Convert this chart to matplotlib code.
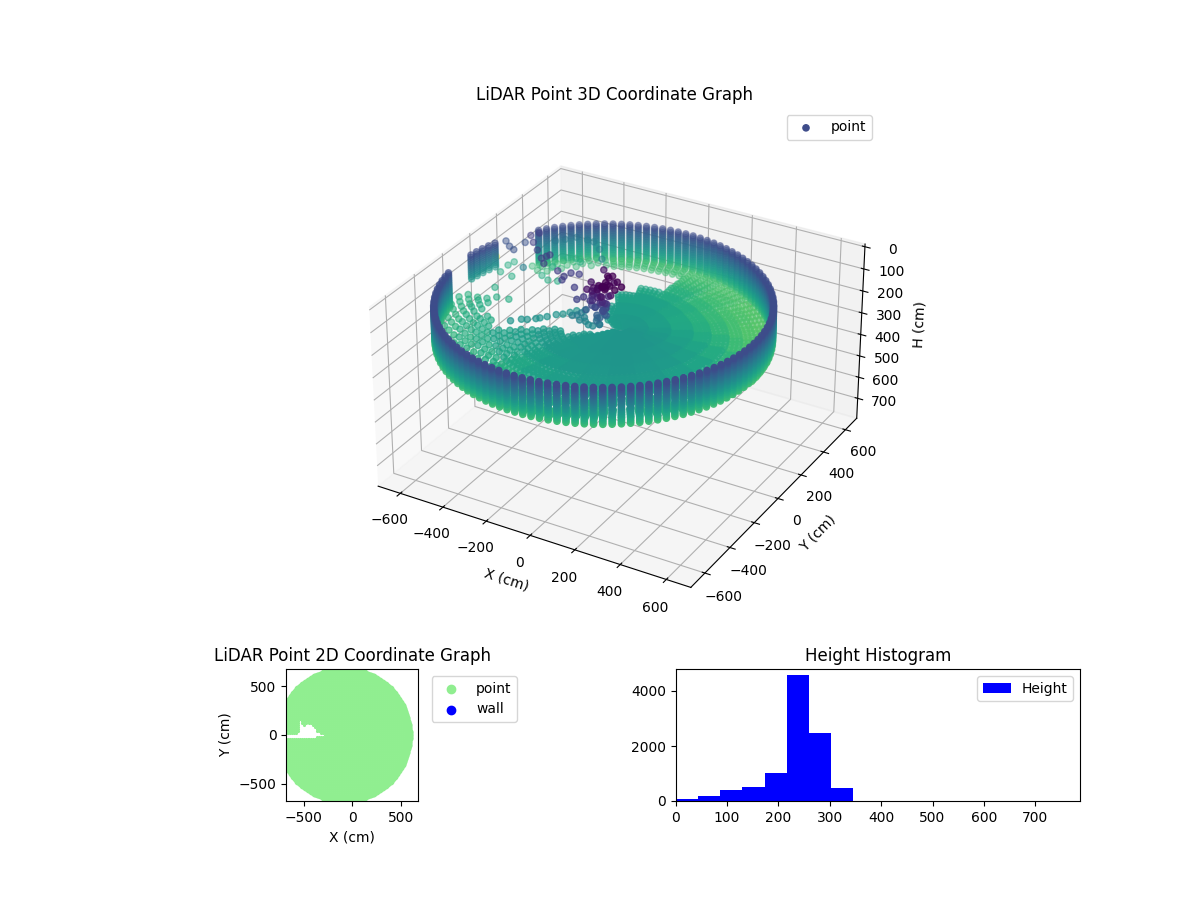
import numpy as np
import matplotlib
matplotlib.use("Agg")
import matplotlib.pyplot as plt
from matplotlib.gridspec import GridSpec

room_center_x = -85
room_radius = 667

scan_azimuths = [-180,-177,-174,-171,-168,-165,-162,-159,-156,-153,-150,-147,-144,-141,-138,-135,-132,-129,-126,-123,
 -120,-117,-114,-111,-108,-105,-102,-99,-96,-93,-90,-87,-84,-81,-78,-75,-72,-69,-66,-63,
 -60,-57,-54,-51,-48,-45,-42,-39,-36,-33,-30,-27,-24,-21,-18,-15,-12,-9,-6,-3,
 0,3,6,9,12,15,18,21,24,27,30,33,36,39,42,45,48,51,54,57,
 60,63,66,69,72,75,78,81,84,87,90,93,96,99,102,105,108,111,114,117,
 120,123,126,129,132,135,138,141,144,147,150,153,156,159,162,165,168,171,174,177]
wall_gap_azimuths = [147,150,153,156,159,162,165,168,171,174,177,-180,-177,-174]
cluster_azimuths = [162,165,168,171,174]
wall_heights = [130,138,146,154,162,170,178,186,194,202,210,218,226,234,242,250,258,266,274,282,290]
cluster_heights = [130,140,150,160,170,180,190,200,210,220,230,240]
floor_radii = [40,60,80,100,120,140,160,180,200,220,240,260,280,300,320,340,360,380,400,420,440,460,480,500,520,540,560,580,600,620,640,660]
floor_band_limits = [120,220,320,400,470,540,600,700]
n = float("nan")
floor_sector_starts = [-180,-165,-150,-135,-120,-105,-90,-75,-60,-45,-30,-15,0,15,30,45,60,75,90,105,120,135,150,165]
floor_checkered = [1,1,1,1,0,0,0,0,0,0,0,0,0,0,0,0,0,0,0,0,1,1,0,0]
floor_band_heights = [
 [n,n,n,n,n,n,265,272],
 [n,n,n,n,n,262,268,275],
 [n,n,240,245,250,262,270,278],
 [n,238,240,248,255,265,273,280],
 [235,235,238,248,258,268,276,284],
 [235,235,236,242,250,262,272,282],
 [234,234,235,238,245,255,266,278],
 [233,233,234,236,240,248,258,270],
 [232,232,233,234,238,244,252,265],
 [232,232,234,236,240,248,258,272],
 [232,233,236,240,246,256,268,282],
 [233,235,240,246,254,266,280,292],
 [235,238,246,254,264,278,290,300],
 [236,242,252,262,274,288,298,305],
 [238,246,258,270,282,294,302,306],
 [238,248,260,272,284,294,300,304],
 [238,246,256,268,280,290,296,300],
 [238,244,252,262,272,282,290,296],
 [240,244,250,258,n,n,n,292],
 [240,244,250,n,n,n,n,290],
 [240,244,n,n,n,n,n,285],
 [242,n,n,n,n,n,n,285],
 [n,n,n,n,n,n,n,n],
 [n,n,n,n,n,n,n,n],
]

clutter_x = [-613,-594,-572,-523,-472,-463,-457,-440,-359,-313,-304,-270,-230,-305,-701,-664,-633,-626,
 -705,-644,-702,-709,-653,-603,-551,-579,-541,-499,-460,-544,-527,-497,-465,
 -417,-386,-365,-339,-328,-309,-286,-265,-248,-232,-205,-930,
 36,-71,-73,-98,-111,-137,-60,-55,-45,-46,-59,-81,-161,-153,-176,
 -108,-116,-100,-72,-61,-83,-98,-68,-53,-112,-154,-46,-72,-93,-26,
 -586,-558,-527,-476,-445,-390,-338,
 -60,-75,-90,-50,-40,-100,-65,-80,-95,-50,-45,-70,-85,-55,-65,-75,-50,-85,-60,-70,-40,-110,-120,-130,-30,-20,
 -200,-180,-160,-140,-170,-150,-120,-100]
clutter_y = [313,349,266,217,165,188,206,131,105,77,116,123,19,48,261,229,212,289,
 220,210,322,285,95,29,38,196,278,256,268,368,461,476,458,
 -163,-131,-121,-98,-85,-62,-30,-13,13,38,58,540,
 -70,46,-5,-16,-34,-41,-30,-67,-58,-71,-74,34,131,19,-53,
 -41,-52,-41,6,40,-15,-31,-57,-18,-44,-38,-57,-78,45,5,
 461,493,532,535,533,487,418,
 -40,-30,-40,-50,-30,-20,-60,-55,-70,-70,-45,-45,-65,-60,-35,-70,-40,-50,-75,-60,-60,-50,-30,-60,-40,-25,
 -50,-45,-60,-50,-30,-40,-60,-60]
clutter_h = [115,115,115,115,115,115,115,115,115,115,115,115,115,115,140,140,140,140,
 265,265,265,265,265,265,265,200,265,265,265,265,265,265,265,
 230,230,230,230,230,230,230,230,230,230,230,400,
 0,35,40,55,60,70,50,70,100,130,160,40,70,70,120,
 85,110,140,55,60,55,80,105,90,70,110,150,175,40,30,
 200,200,200,200,200,200,200,
 40,50,60,45,35,65,75,85,95,90,110,120,125,135,145,155,165,180,190,200,120,130,100,150,70,50,
 200,195,205,210,190,200,215,215]

hist_edges = [0,43,86,129,173,216,259,302,345,388]
hist_counts = [73,180,400,510,1018,4582,2473,473,5]

plan_x = [-680,-660,-640,-620,-600,-580,-560,-540,-520,-500,-480,-460,-440,-420,-400,-380,-360,-340,-320,-300,-280,-260,-240,-220,-200,-180,-160,-140,-120,-100,-80,-60,-40,-20,0,20,40,60,80,100,120,140,160,180,200,220,240,260,280,300,320,340,360,380,400,420,440,460,480,500,520,540,560,580,600,620]
plan_y = [-680,-660,-640,-620,-600,-580,-560,-540,-520,-500,-480,-460,-440,-420,-400,-380,-360,-340,-320,-300,-280,-260,-240,-220,-200,-180,-160,-140,-120,-100,-80,-60,-40,-20,0,20,40,60,80,100,120,140,160,180,200,220,240,260,280,300,320,340,360,380,400,420,440,460,480,500,520,540,560,580,600,620,640,660,680]
notch_y = [-20,0,20,40,60,80,100,100,120,120,140]
notch_xmin = [-690,-690,-560,-545,-545,-540,-540,-495,-540,-470,-545]
notch_xmax = [-370,-300,-340,-370,-380,-395,-510,-410,-525,-445,-535]

x_ticks = [-600,-400,-200,0,200,400,600]
h_ticks = [0,100,200,300,400,500,600,700]

# ---------- assemble the point cloud ----------
wall_az = np.array([a for a in scan_azimuths if a not in wall_gap_azimuths], float)
A, H = np.meshgrid(wall_az, wall_heights)
wall_x = room_center_x + room_radius * np.cos(np.radians(A.ravel()))
wall_y = room_radius * np.sin(np.radians(A.ravel()))
wall_h = H.ravel().astype(float)
A, H = np.meshgrid(cluster_azimuths, cluster_heights)
cl_x = room_center_x + room_radius * np.cos(np.radians(A.ravel()))
cl_y = room_radius * np.sin(np.radians(A.ravel()))
cl_h = H.ravel().astype(float)

fx, fy, fh = [], [], []
for i, a in enumerate(scan_azimuths):
    s = np.searchsorted(floor_sector_starts, a, side="right") - 1
    for j, r in enumerate(floor_radii):
        b = np.searchsorted(floor_band_limits, r, side="right")
        h = floor_band_heights[s][b]
        if np.isnan(h) or (floor_checkered[s] and (i + j) % 2):
            continue
        fx.append(room_center_x * r / room_radius + r * np.cos(np.radians(a)))
        fy.append(r * np.sin(np.radians(a)))
        fh.append(h)

xs = np.concatenate([wall_x, cl_x, fx, clutter_x])
ys = np.concatenate([wall_y, cl_y, fy, clutter_y])
hs = np.concatenate([wall_h, cl_h, fh, clutter_h])

PX, PY = np.meshgrid(plan_x, plan_y)
PX = PX.ravel().astype(float); PY = PY.ravel().astype(float)
keep = (PX - room_center_x) ** 2 + PY ** 2 <= room_radius ** 2
for y0, a0, b0 in zip(notch_y, notch_xmin, notch_xmax):
    keep &= ~((PY == y0) & (PX >= a0) & (PX <= b0))
rim_az = np.radians(np.array(scan_azimuths, float))
rim_x = room_center_x + room_radius * np.cos(rim_az)
rim_y = room_radius * np.sin(rim_az)

# ---------- figure ----------
fig = plt.figure(figsize=(12, 9), dpi=100)
gs = GridSpec(2, 2, figure=fig, height_ratios=[4, 1], hspace=0.1, wspace=0.3)

ax3 = fig.add_subplot(gs[0, :], projection="3d")
ax3.scatter(xs, ys, hs, c=hs, cmap="viridis", vmin=50, vmax=400, label="point")
ax3.set_xlim(-705, 705)
ax3.set_ylim(-710, 705)
ax3.set_zlim(795, -12)
ax3.set_box_aspect((1410, 1415, 807))
ax3.set_xticks(x_ticks)
ax3.set_yticks(x_ticks)
ax3.set_zticks(h_ticks)
ax3.set_xlabel("X (cm)")
ax3.set_ylabel("Y (cm)")
ax3.set_zlabel("H (cm)")
ax3.set_title("LiDAR Point 3D Coordinate Graph")
ax3.legend(loc="upper right")

ax2 = fig.add_subplot(gs[1, 0])
ax2.scatter(PX[keep], PY[keep], s=5, c="lightgreen", linewidths=0)
ax2.scatter(rim_x, rim_y, s=36, c="lightgreen", linewidths=0)
h1 = ax2.scatter([], [], s=36, c="lightgreen", label="point")
h2 = ax2.scatter([], [], s=36, c="blue", label="wall")
ax2.set_xlim(-680, 680)
ax2.set_ylim(-680, 680)
ax2.set_aspect("equal")
ax2.set_xticks([-500, 0, 500])
ax2.set_yticks([-500, 0, 500])
ax2.set_xlabel("X (cm)")
ax2.set_ylabel("Y (cm)")
ax2.set_title("LiDAR Point 2D Coordinate Graph")
ax2.legend(handles=[h1, h2], loc="upper left", bbox_to_anchor=(1.05, 1))

ax1 = fig.add_subplot(gs[1, 1])
ax1.bar(hist_edges[:-1], hist_counts, width=np.diff(hist_edges), align="edge", color="blue", label="Height")
ax1.set_xlim(0, 787)
ax1.set_ylim(0, 4800)
ax1.set_xticks(h_ticks)
ax1.set_title("Height Histogram")
ax1.legend(loc="upper right")

fig.savefig("out.png", dpi=100)
